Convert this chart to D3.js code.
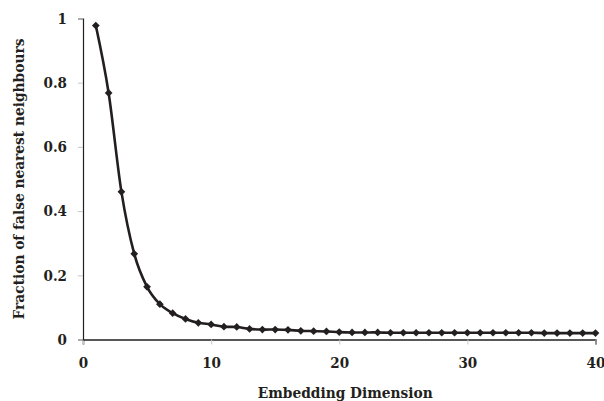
<!DOCTYPE html>
<html>
<head>
<meta charset="utf-8">
<script src="https://cdn.jsdelivr.net/npm/d3@7"></script>
<style>
  body { margin: 0; background: #fff; }
</style>
</head>
<body>
<div id="chart"></div>
<script>
// embedding dimension vs fraction of false nearest neighbours
const dims = d3.range(1, 41);
const fnnFraction = [
  0.978, 0.768, 0.460, 0.267, 0.164, 0.110, 0.082, 0.064, 0.052, 0.047,
  0.040, 0.039, 0.033, 0.031, 0.031, 0.030, 0.027, 0.026, 0.025, 0.023,
  0.022, 0.022, 0.022, 0.021, 0.021, 0.021, 0.021, 0.021, 0.021, 0.021,
  0.021, 0.021, 0.021, 0.021, 0.021, 0.020, 0.020, 0.020, 0.020, 0.020
];
const xTicks = [0, 10, 20, 30, 40];
const yTicks = [0, 0.2, 0.4, 0.6, 0.8, 1];
const xTitle = 'Embedding Dimension';
const yTitle = 'Fraction of false nearest neighbours';

const W = 604, H = 401;
const margin = {left: 83, right: 8.5, top: 18.5, bottom: 61.5};
const width = W - margin.left - margin.right;
const height = H - margin.top - margin.bottom;

const ink = '#231f20';
const serif = "'DejaVu Serif Condensed', 'DejaVu Serif', serif";

const svg = d3.select('#chart').append('svg')
    .attr('width', W)
    .attr('height', H);

const g = svg.append('g')
    .attr('transform', `translate(${margin.left},${margin.top})`);

const x = d3.scaleLinear().domain([0, 40]).range([0, width]);
const y = d3.scaleLinear().domain([0, 1]).range([height, 0]);

function styleText(sel, size) {
  sel.style('font-family', serif)
    .style('font-weight', 'bold')
    .style('font-size', (size || 15) + 'px')
    .attr('fill', ink);
}

// x axis
const xAxis = g.append('g')
    .attr('transform', `translate(0,${height})`)
    .call(d3.axisBottom(x).tickValues(xTicks).tickSize(5).tickPadding(13).tickFormat(d3.format('d')));
xAxis.attr('font-family', null).attr('font-size', null);
xAxis.select('.domain').attr('stroke', ink).attr('stroke-width', 1.5);
xAxis.selectAll('.tick line').attr('stroke', '#c8c8c8');
xAxis.selectAll('.tick text').call(styleText);

// y axis
const yAxis = g.append('g')
    .call(d3.axisLeft(y).tickValues(yTicks).tickSize(5).tickPadding(11).tickFormat(d => d3.format('~g')(d)));
yAxis.attr('font-family', null).attr('font-size', null);
yAxis.select('.domain').attr('stroke', ink).attr('stroke-width', 1.2);
yAxis.selectAll('.tick line').attr('stroke', '#c8c8c8');
yAxis.selectAll('.tick text').call(styleText);

// titles
g.append('text')
    .attr('x', width / 2 + 6)
    .attr('y', height + 58)
    .attr('text-anchor', 'middle')
    .call(styleText, 15.3)
    .text(xTitle);

g.append('text')
    .attr('transform', `translate(${24 - margin.left},${height / 2}) rotate(-90)`)
    .attr('text-anchor', 'middle')
    .call(styleText, 15.3)
    .text(yTitle);

// series
const data = dims.map((d, i) => ({dim: d, value: fnnFraction[i]}));

const line = d3.line()
    .x(d => x(d.dim))
    .y(d => y(d.value))
    .curve(d3.curveCatmullRom.alpha(0));

g.append('path')
    .datum(data)
    .attr('fill', 'none')
    .attr('stroke', ink)
    .attr('stroke-width', 2.6)
    .attr('d', line);

const diamond = d3.symbolDiamond2 || d3.symbolDiamond;
g.selectAll('.marker')
  .data(data)
  .enter().append('path')
    .attr('class', 'marker')
    .attr('transform', d => `translate(${x(d.dim)},${y(d.value)})`)
    .attr('d', d3.symbol().type(diamond).size(38))
    .attr('fill', ink);
</script>
</body>
</html>
